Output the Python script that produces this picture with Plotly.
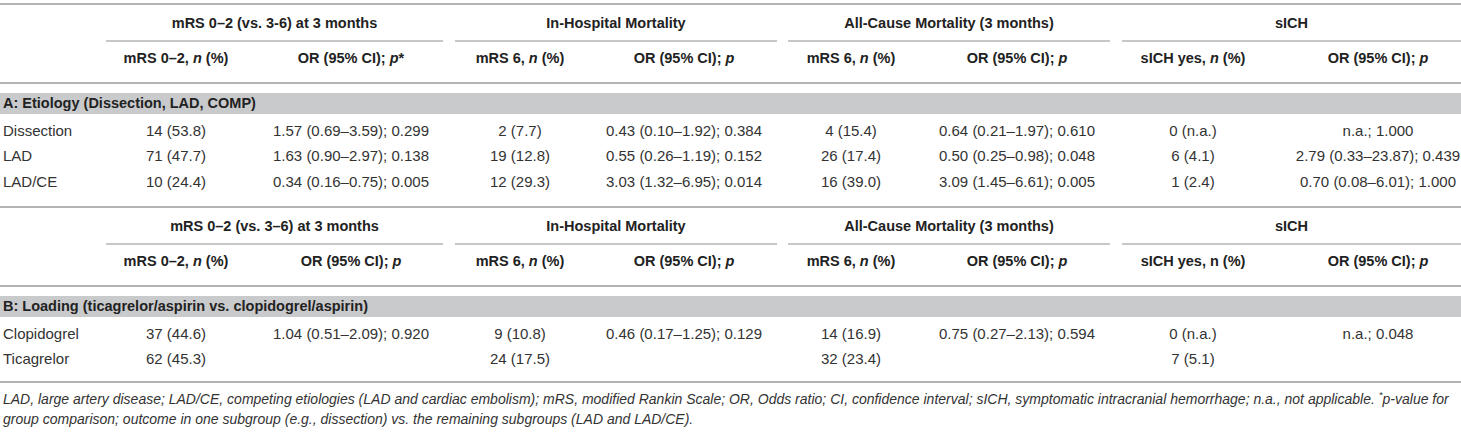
import plotly.graph_objects as go

# table content
groups_a = ["mRS 0–2 (vs. 3-6) at 3 months", "In-Hospital Mortality",
            "All-Cause Mortality (3 months)", "sICH"]
groups_b = ["mRS 0–2 (vs. 3–6) at 3 months", "In-Hospital Mortality",
            "All-Cause Mortality (3 months)", "sICH"]
sub_a = ["mRS 0–2, <i>n</i> (%)", "OR (95% CI); <i>p</i>*", "mRS 6, <i>n</i> (%)", "OR (95% CI); <i>p</i>",
         "mRS 6, <i>n</i> (%)", "OR (95% CI); <i>p</i>", "sICH yes, <i>n</i> (%)", "OR (95% CI); <i>p</i>"]
sub_b = ["mRS 0–2, <i>n</i> (%)", "OR (95% CI); <i>p</i>", "mRS 6, <i>n</i> (%)", "OR (95% CI); <i>p</i>",
         "mRS 6, <i>n</i> (%)", "OR (95% CI); <i>p</i>", "sICH yes, n (%)", "OR (95% CI); <i>p</i>"]

section_a = "A: Etiology (Dissection, LAD, COMP)"
rows_a = ["Dissection", "LAD", "LAD/CE"]
mrs02_a = ["14 (53.8)", "71 (47.7)", "10 (24.4)"]
or_mrs02_a = ["1.57 (0.69–3.59); 0.299", "1.63 (0.90–2.97); 0.138", "0.34 (0.16–0.75); 0.005"]
hosp_a = ["2 (7.7)", "19 (12.8)", "12 (29.3)"]
or_hosp_a = ["0.43 (0.10–1.92); 0.384", "0.55 (0.26–1.19); 0.152", "3.03 (1.32–6.95); 0.014"]
mort_a = ["4 (15.4)", "26 (17.4)", "16 (39.0)"]
or_mort_a = ["0.64 (0.21–1.97); 0.610", "0.50 (0.25–0.98); 0.048", "3.09 (1.45–6.61); 0.005"]
sich_a = ["0 (n.a.)", "6 (4.1)", "1 (2.4)"]
or_sich_a = ["n.a.; 1.000", "2.79 (0.33–23.87); 0.439", "0.70 (0.08–6.01); 1.000"]

section_b = "B: Loading (ticagrelor/aspirin vs. clopidogrel/aspirin)"
rows_b = ["Clopidogrel", "Ticagrelor"]
mrs02_b = ["37 (44.6)", "62 (45.3)"]
or_mrs02_b = ["1.04 (0.51–2.09); 0.920", ""]
hosp_b = ["9 (10.8)", "24 (17.5)"]
or_hosp_b = ["0.46 (0.17–1.25); 0.129", ""]
mort_b = ["14 (16.9)", "32 (23.4)"]
or_mort_b = ["0.75 (0.27–2.13); 0.594", ""]
sich_b = ["0 (n.a.)", "7 (5.1)"]
or_sich_b = ["n.a.; 0.048", ""]

footnote = ["LAD, large artery disease; LAD/CE, competing etiologies (LAD and cardiac embolism); mRS, modified Rankin Scale; "
            "OR, Odds ratio; CI, confidence interval; sICH, symptomatic intracranial hemorrhage; n.a., not applicable. "
            "<sup>*</sup>p-value for",
            "group comparison; outcome in one subgroup (e.g., dissection) vs. the remaining subgroups (LAD and LAD/CE)."]

# layout in pixel units
W, H = 1461, 434
col_x = [176, 351, 520, 684, 851, 1017, 1193, 1378]
spans = [(106, 443), (455, 777), (788, 1110), (1122, 1461)]
FONT = "Liberation Sans, Arial, sans-serif"
TXT = "#333333"
HEAD = "#222222"
LINE = "#b4b4b4"
BAR = "#c9cacc"

fig = go.Figure()
shapes = []


def add_text(xs, ys, texts, pos="middle center", size=15, color=TXT):
    keep = [i for i, t in enumerate(texts) if t]
    fig.add_trace(go.Scatter(x=[xs[i] for i in keep], y=[ys[i] for i in keep],
                             text=[texts[i] for i in keep], mode="text", textposition=pos,
                             textfont=dict(family=FONT, size=size, color=color),
                             hoverinfo="skip", showlegend=False))


def hline(y, x0=0, x1=W, width=2):
    shapes.append(dict(type="line", x0=x0, x1=x1, y0=y, y1=y, xref="x", yref="y",
                       line=dict(color=LINE, width=width)))


def block(top, groups, subs, section, rows, cols):
    hline(top)
    add_text([(a + b) / 2 for a, b in spans], [top + 20] * 4, ["<b>%s</b>" % g for g in groups],
             size=14.5, color=HEAD)
    for a, b in spans:
        hline(top + 37, a, b, width=1.5)
    add_text(col_x, [top + 55] * 8, ["<b>%s</b>" % s for s in subs], size=14.5, color=HEAD)
    hline(top + 79)
    shapes.append(dict(type="rect", x0=0, x1=W, y0=top + 89, y1=top + 110, xref="x", yref="y",
                       fillcolor=BAR, line=dict(width=0), layer="below"))
    add_text([3], [top + 100], ["<b>%s</b>" % section], pos="middle right", size=14.5, color=HEAD)
    ys = [top + 128 + 25.5 * i for i in range(len(rows))]
    add_text([3] * len(rows), ys, rows, pos="middle right")
    for cx, vals in zip(col_x, cols):
        add_text([cx] * len(vals), ys, vals)


block(4, groups_a, sub_a, section_a, rows_a,
      [mrs02_a, or_mrs02_a, hosp_a, or_hosp_a, mort_a, or_mort_a, sich_a, or_sich_a])
block(207, groups_b, sub_b, section_b, rows_b,
      [mrs02_b, or_mrs02_b, hosp_b, or_hosp_b, mort_b, or_mort_b, sich_b, or_sich_b])
hline(382)

add_text([3, 3], [400, 420], ["<i>%s</i>" % f for f in footnote], pos="middle right", size=14)

fig.update_layout(
    width=W, height=H,
    margin=dict(l=0, r=0, t=0, b=0),
    paper_bgcolor="white", plot_bgcolor="white",
    xaxis=dict(range=[0, W], visible=False, fixedrange=True),
    yaxis=dict(range=[H, 0], visible=False, fixedrange=True),
    shapes=shapes,
)

fig.write_html("out.html", config={"displayModeBar": False})

# drop the default page margin so the table sits at the window's corner
with open("out.html", encoding="utf-8") as f:
    page = f.read()
page = page.replace("<head>", "<head><style>body{margin:0;overflow:hidden}</style>", 1)
with open("out.html", "w", encoding="utf-8") as f:
    f.write(page)
